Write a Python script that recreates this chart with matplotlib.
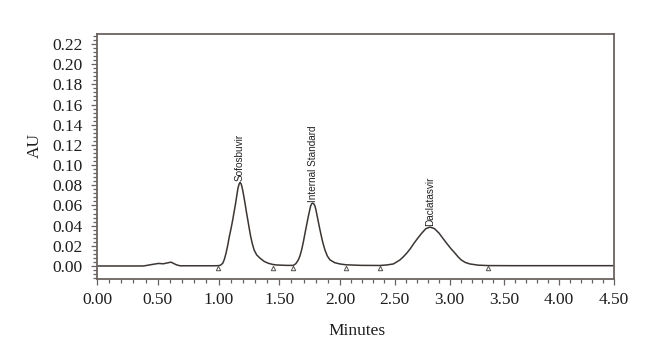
import matplotlib
matplotlib.use("Agg")
import matplotlib.pyplot as plt
import matplotlib.transforms as mtransforms
from matplotlib.ticker import MultipleLocator, FormatStrFormatter
import numpy as np

# chromatogram trace (minutes, AU)
time_min = [0.00, 0.378, 0.397, 0.454, 0.505, 0.546, 0.609, 0.653, 0.683, 0.946,
            # Sofosbuvir
            0.999, 1.017, 1.035, 1.048, 1.062, 1.076, 1.089, 1.104, 1.117, 1.129,
            1.141, 1.152, 1.160, 1.169, 1.177, 1.187, 1.196, 1.207, 1.218, 1.229,
            1.241, 1.253, 1.265, 1.279, 1.293, 1.314, 1.342, 1.376, 1.410, 1.447,
            1.479, 1.560,
            # internal standard
            1.615, 1.636, 1.657, 1.671, 1.684, 1.698, 1.712, 1.726, 1.739, 1.750,
            1.759, 1.768, 1.775, 1.784, 1.794, 1.803, 1.813, 1.827, 1.841, 1.858,
            1.876, 1.896, 1.918, 1.958, 2.000, 2.053, 2.194,
            # Daclatasvir
            2.365, 2.425, 2.487, 2.547, 2.577, 2.608, 2.642, 2.675, 2.711, 2.746,
            2.783, 2.821, 2.861, 2.904, 2.938, 2.973, 3.012, 3.050, 3.078, 3.106,
            3.143, 3.186, 3.263, 3.353, 3.557, 4.50]
absorb = [0.0000, 0.0000, 0.0003, 0.0015, 0.0025, 0.0022, 0.0038, 0.0012, 0.0002, 0.0002,
          0.0003, 0.0008, 0.0027, 0.0065, 0.0126, 0.0205, 0.0291, 0.0375, 0.0457, 0.0540,
          0.0623, 0.0710, 0.0770, 0.0810, 0.0828, 0.0812, 0.0770, 0.0700, 0.0623, 0.0540,
          0.0457, 0.0372, 0.0291, 0.0218, 0.0159, 0.0110, 0.0077, 0.0045, 0.0027, 0.0015,
          0.0010, 0.0006,
          0.0006, 0.0022, 0.0060, 0.0102, 0.0159, 0.0235, 0.0325, 0.0410, 0.0490, 0.0550,
          0.0597, 0.0618, 0.0623, 0.0617, 0.0594, 0.0550, 0.0490, 0.0405, 0.0325, 0.0235,
          0.0159, 0.0098, 0.0060, 0.0032, 0.0020, 0.0012, 0.0006,
          0.0005, 0.0010, 0.0020, 0.0060, 0.0090, 0.0126, 0.0172, 0.0225, 0.0278, 0.0325,
          0.0370, 0.0385, 0.0371, 0.0325, 0.0275, 0.0225, 0.0172, 0.0126, 0.0090, 0.0060,
          0.0035, 0.0020, 0.0008, 0.0004, 0.0003, 0.0003]

# peak names and the window each one sits in
peak_names = ["Sofosbuvir", "Internal Standard", "Daclatasvir"]
peak_windows = [(0.9, 1.5), (1.55, 2.1), (2.3, 3.4)]

# integration start/end marks
marks_t = [0.999, 1.449, 1.615, 2.053, 2.365, 3.353]

line_col = "#3b3633"
frame_col = "#6b6360"
serif = "Liberation Serif"


# the time axis in the source is stretched a bit more below 2 min than above
def fwd(v):
    v = np.asarray(v, dtype=float)
    return np.where(v <= 2, v * 121.5, 243 + (v - 2) * 109.6)


def inv(p):
    p = np.asarray(p, dtype=float)
    return np.where(p <= 243, p / 121.5, 2 + (p - 243) / 109.6)


fig = plt.figure(figsize=(6.6, 3.62), dpi=100)
ax = fig.add_axes([97/660, 83/362, 517/660, 245/362])
ax.set_xscale("function", functions=(fwd, inv))

t = np.array(time_min)
a = np.array(absorb)
ax.plot(t, a, color=line_col, lw=1.1, solid_joinstyle="round")

# small open triangles just under the baseline
down = mtransforms.offset_copy(ax.transData, fig=fig, x=0, y=-2, units="dots")
ax.plot(marks_t, np.zeros(len(marks_t)), ls="none", marker="^", ms=3.2,
        mfc="white", mec="#555050", mew=0.7, transform=down)

for name, (lo, hi) in zip(peak_names, peak_windows):
    sel = (t >= lo) & (t <= hi)
    i = np.argmax(np.where(sel, a, -1))
    ax.annotate(name, xy=(t[i], a[i]), xytext=(0, 1), textcoords="offset points",
                rotation=90, ha="center", va="bottom", fontsize=7.2,
                family="Liberation Sans", color="#222222")

ax.set_xlim(0, 4.5)
ax.set_ylim(-0.0129, 0.2299)

ax.xaxis.set_major_locator(MultipleLocator(0.5))
ax.xaxis.set_minor_locator(MultipleLocator(0.1))
ax.yaxis.set_major_locator(MultipleLocator(0.02))
ax.yaxis.set_minor_locator(MultipleLocator(0.004))
ax.xaxis.set_major_formatter(FormatStrFormatter("%.2f"))
ax.yaxis.set_major_formatter(FormatStrFormatter("%.2f"))

ax.tick_params(which="both", direction="out", colors=frame_col, labelcolor="#1e1e1e",
               labelsize=12.5, width=0.9)
ax.tick_params(which="major", length=4.5)
ax.tick_params(which="minor", length=2.8)
ax.tick_params(axis="x", which="major", pad=5)
ax.tick_params(axis="y", which="major", pad=6)
for lab in ax.get_xticklabels() + ax.get_yticklabels():
    lab.set_family(serif)

for sp in ax.spines.values():
    sp.set_color(frame_col)
    sp.set_linewidth(1.3)

ax.set_xlabel("Minutes", family=serif, fontsize=12.5, color="#1e1e1e")
ax.set_ylabel("AU", family=serif, fontsize=12.5, color="#1e1e1e")
ax.xaxis.set_label_coords(0.503, -0.18)
ax.yaxis.set_label_coords(-0.105, 0.545)

fig.savefig("out.png", dpi=100)
